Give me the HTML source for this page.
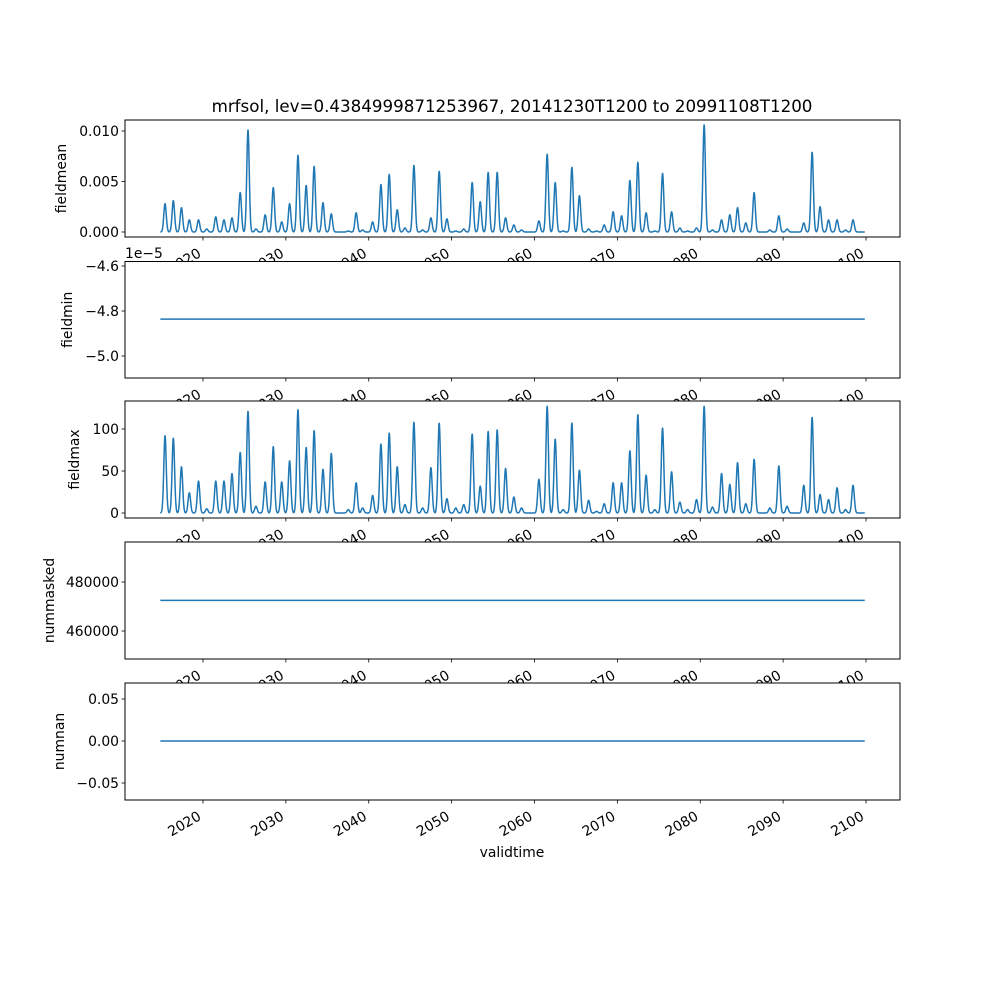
<!DOCTYPE html>
<html><head><meta charset="utf-8"><style>
html,body{margin:0;padding:0;background:#fff}
svg{display:block;font-family:"DejaVu Sans","Liberation Sans",sans-serif}
</style></head><body>
<svg id="chart" width="1000" height="1000" xmlns="http://www.w3.org/2000/svg"></svg>
<script>
const peakYears=[2015.42,2016.42,2017.4,2018.35,2019.46,2020.45,2021.54,2022.53,2023.5,2024.49,2025.43,2026.39,2027.5,2028.48,2029.5,2030.45,2031.46,2032.45,2033.41,2034.48,2035.48,2037.53,2038.48,2039.26,2040.47,2041.47,2042.47,2043.44,2044.37,2045.45,2046.5,2047.5,2048.5,2049.43,2050.5,2051.46,2052.48,2053.45,2054.41,2055.5,2056.51,2057.51,2058.44,2060.53,2061.53,2062.5,2063.46,2064.51,2065.42,2066.53,2067.49,2068.41,2069.49,2070.51,2071.51,2072.47,2073.47,2074.52,2075.45,2076.54,2077.54,2078.47,2079.55,2080.47,2081.48,2082.57,2083.57,2084.5,2085.5,2086.5,2088.4,2089.48,2090.48,2092.49,2093.5,2094.46,2095.48,2096.51,2097.53,2098.44];
const meanPeaks=[0.0028,0.0031,0.0024,0.0012,0.0012,0.0003,0.0015,0.0012,0.0014,0.0039,0.0101,0.0003,0.0017,0.0044,0.0010,0.0028,0.0076,0.0046,0.0065,0.0029,0.0018,0.0001,0.0019,0.0002,0.0010,0.0047,0.0057,0.0022,0.0004,0.0066,0.0002,0.0014,0.0060,0.0013,0.0001,0.0003,0.0049,0.0030,0.0059,0.0059,0.0014,0.0007,0.0002,0.0011,0.0077,0.0049,0.0001,0.0064,0.0036,0.0003,0.0001,0.0007,0.0020,0.0016,0.0051,0.0069,0.0019,0.0001,0.0058,0.0020,0.0004,0.0001,0.0004,0.0106,0.0002,0.0012,0.0017,0.0024,0.0009,0.0039,0.0002,0.0016,0.0003,0.0009,0.0079,0.0025,0.0012,0.0012,0.0002,0.0012];
const maxPeaks=[92,89,55,24,38,5,38,38,47,72,121,8,37,79,37,62,123,78,98,52,71,4,36,6,21,82,95,55,10,108,6,54,107,17,6,10,94,32,97,99,53,19,6,40,127,88,4,107,51,15,2,11,36,36,74,117,45,4,101,49,13,4,16,127,7,47,34,60,11,64,6,56,8,33,114,22,16,30,4,33];
const fieldminValue=-4.836e-5;
const nummaskedValue=472500;
const numnanValue=0;
const timeStart=2014.85, timeEnd=2099.85;
const xTickLabels=["2020","2030","2040","2050","2060","2070","2080","2090","2100"];

const NS="http://www.w3.org/2000/svg";
const svg=document.getElementById('chart');
const L=125,R=900;
function X(yr){return 203+(yr-2020)*8.2875;}
function mk(tag,attrs,parent){const e=document.createElementNS(NS,tag);for(const k in attrs)e.setAttribute(k,attrs[k]);(parent||svg).appendChild(e);return e;}
function txt(s,attrs,parent){const e=mk('text',attrs,parent);e.textContent=s;return e;}

const panels=[
 {name:'fieldmean',top:120,bot:237,y0:0,p0:232,y1:0.01,p1:131,ticks:[0,0.005,0.01],fmt:v=>v.toFixed(3),kind:'mean',lx:66},
 {name:'fieldmin',top:261.5,bot:378,y0:-4.6e-5,p0:266,y1:-4.8e-5,p1:311,ticks:[-4.6e-5,-4.8e-5,-5.0e-5],fmt:v=>(v*1e5).toFixed(1).replace('-','\u2212'),kind:'min',lx:72},
 {name:'fieldmax',top:401,bot:518,y0:0,p0:513,y1:100,p1:429,ticks:[0,50,100],fmt:v=>String(v),kind:'max',lx:79},
 {name:'nummasked',top:542,bot:659,y0:480000,p0:582,y1:460000,p1:631,ticks:[460000,480000],fmt:v=>String(v),kind:'masked',lx:54},
 {name:'numnan',top:683,bot:800,y0:0.05,p0:699,y1:-0.05,p1:783,ticks:[-0.05,0,0.05],fmt:v=>v.toFixed(2).replace('-','\u2212'),kind:'nan',lx:64}
];

txt('mrfsol, lev=0.4384999871253967, 20141230T1200 to 20991108T1200',{x:512,y:112,'text-anchor':'middle','font-size':'16.7',});

function seriesFromPeaks(peaks){
  const pts=[];
  for(let t=timeStart;t<=timeEnd+1e-9;t+=0.02){
    let v=0;
    for(let i=0;i<peakYears.length;i++){const d=(t-peakYears[i])/0.15;if(Math.abs(d)<4)v=Math.max(v,peaks[i]*Math.exp(-0.5*d*d));}
    pts.push([t,v]);
  }
  return pts;
}

panels.forEach((p,idx)=>{
  const g=mk('g',{});
  
  
  const Y=v=>p.p0+(v-p.y0)*(p.p1-p.p0)/(p.y1-p.y0);
  const bg=mk('rect',{x:L,y:p.top,width:R-L,height:p.bot-p.top,fill:'#fff',stroke:'#000','stroke-width':1},g);
  
  
  let pts;
  if(p.kind==='mean')pts=seriesFromPeaks(meanPeaks);
  else if(p.kind==='max')pts=seriesFromPeaks(maxPeaks);
  else{const v=p.kind==='min'?fieldminValue:p.kind==='masked'?nummaskedValue:numnanValue;pts=[[timeStart,v],[timeEnd,v]];}
  const d=pts.map((q,i)=>(i?'L':'M')+X(q[0]).toFixed(2)+' '+Y(q[1]).toFixed(2)).join(' ');
  const line=mk('path',{d:d,fill:'none',stroke:'#1f77b4','stroke-width':1.5,'stroke-linejoin':'round'},g);
  
  
  p.ticks.forEach(v=>{
    const y=Y(v);
    mk('line',{x1:L-3.5,x2:L,y1:y,y2:y,stroke:'#000','stroke-width':0.8},g);
    const t=txt(p.fmt(v),{x:L-6,y:y+5,'text-anchor':'end','font-size':'13.9'},g);
    
    
  });
  const cy=(p.top+p.bot)/2;
  const yl=txt(p.name,{x:0,y:0,'text-anchor':'middle','font-size':'13.9',transform:`translate(${p.lx},${cy}) rotate(-90)`},g);
  
  
  if(p.kind==='min'){
    const o=txt('1e\u22125',{x:L,y:258,'font-size':'13.9'},g);
    
    
  }
  xTickLabels.forEach(s=>{
    const x=X(+s);
    mk('line',{x1:x,x2:x,y1:p.bot,y2:p.bot+3.5,stroke:'#000','stroke-width':0.8},g);
    const t=txt(s,{x:0,y:0,'text-anchor':'end','font-size':'13.9',transform:`translate(${x-1},${p.bot+19}) rotate(-30)`},g);
    
    
  });
});
const xl=txt('validtime',{x:512,y:857,'text-anchor':'middle','font-size':'13.9'});


</script>
</body></html>
